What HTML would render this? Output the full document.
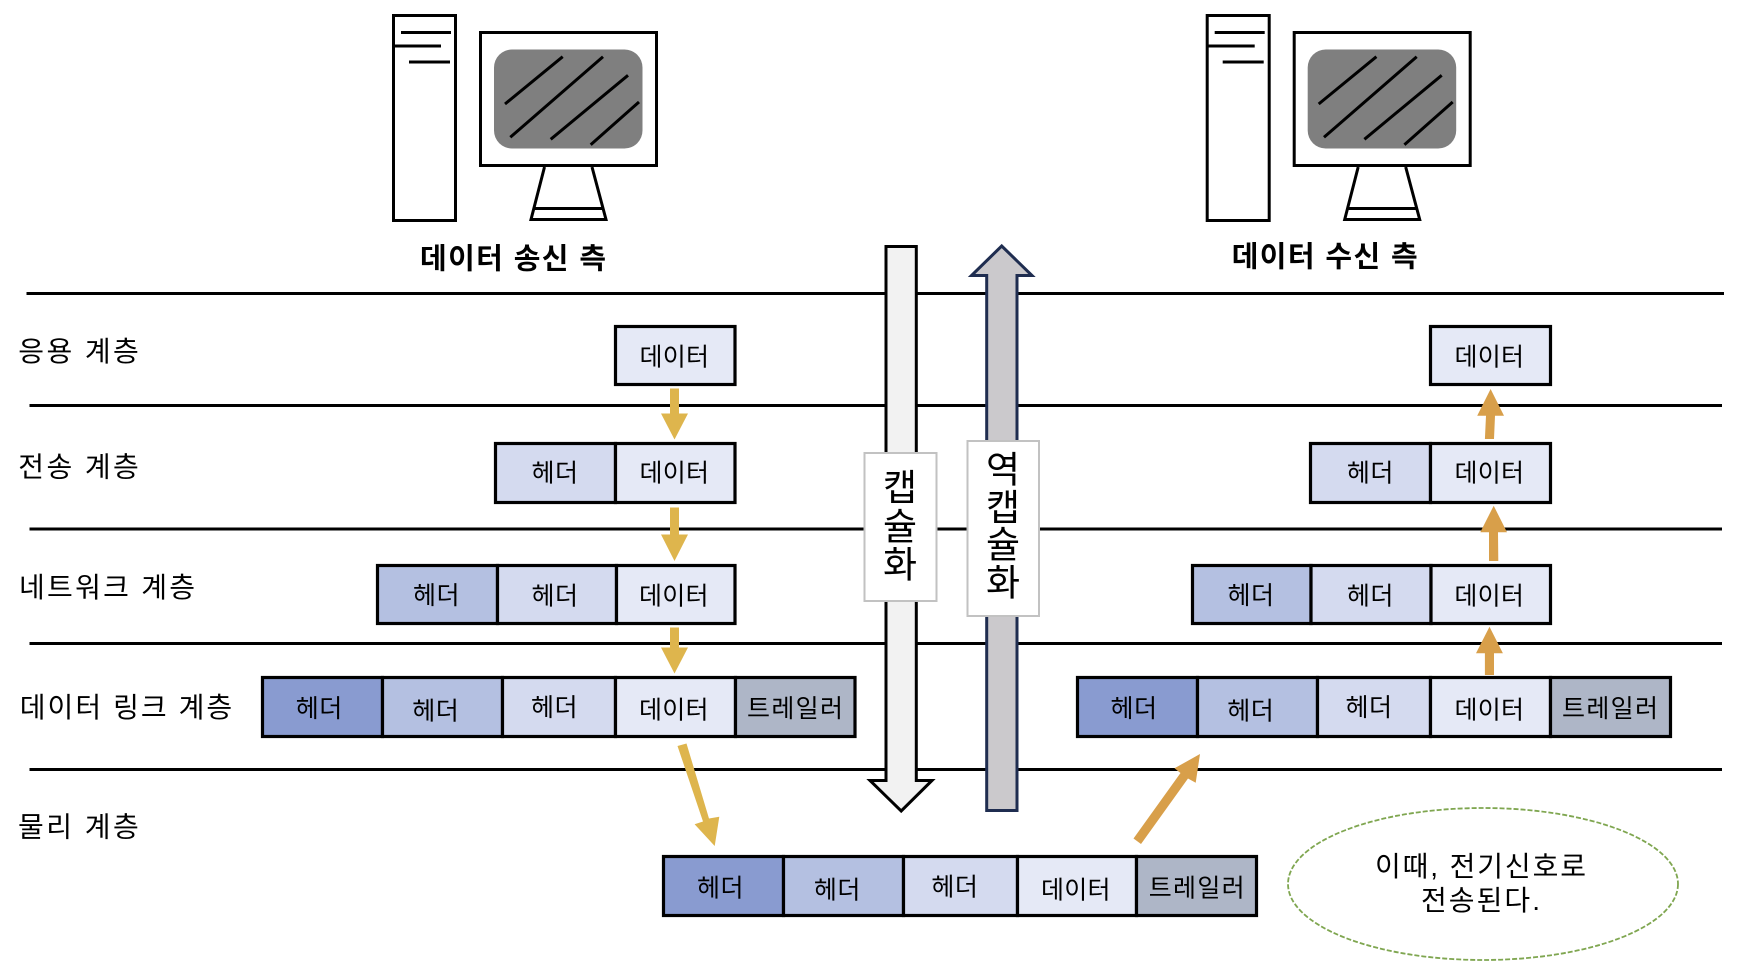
<!DOCTYPE html>
<html lang="ko">
<head>
<meta charset="utf-8">
<title>캡슐화와 역캡슐화</title>
<style>
html,body{margin:0;padding:0;background:#fff;width:1750px;height:974px;overflow:hidden}
svg{display:block}
text{font-family:"Liberation Sans","Noto Sans CJK KR",sans-serif;fill:#000;dominant-baseline:central}
.b{font-size:25px;transform:translate(-1px,2.300px)}
.l{font-size:28px;transform:translate(-1px,1.200px)}
.t{font-size:29px;font-weight:700;transform:translate(-1px,2.200px)}
.v{font-size:37px;text-anchor:middle}
.n{font-size:28px;transform:translate(-1px,1.500px)}
.box{stroke:#000;stroke-width:3.2}
.d{fill:#e5e9f6}.h1{fill:#d4daef}.h2{fill:#b4c0e1}.h3{fill:#899bd0}.tr{fill:#aeb6c7}
.ln{stroke:#000;stroke-width:3;fill:none}
</style>
</head>
<body>
<svg width="1750" height="974" viewBox="0 0 1750 974" xmlns="http://www.w3.org/2000/svg">
<rect width="1750" height="974" fill="#fff"/>

<defs>
<g id="pc">
  <rect x="393.500" y="15.500" width="62" height="205" fill="#fff" class="ln"/>
  <path d="M401 32.500H451M393 46H441M409 62H450" class="ln"/>
  <rect x="480.500" y="32.500" width="176" height="133" fill="#fff" class="ln"/>
  <rect x="494" y="49.500" width="148.500" height="99" rx="18" fill="#7f7f7f"/>
  <path d="M505 104L562.700 56.700M510.300 137.300L603 56.700M550.700 139.300L628 75.300M590.700 144.700L639 102" class="ln"/>
  <path d="M544.500 167L531 219.500H606L592 167" fill="#fff" class="ln"/>
  <path d="M534 208.500H603" class="ln"/>
</g>
</defs>

<use href="#pc"/>
<use href="#pc" x="813.700"/>
<text class="t" x="421" y="257.500" textLength="186">데이터 송신 측</text>
<text class="t" x="1232.700" y="255.500" textLength="186">데이터 수신 측</text>

<!-- layer lines -->
<g stroke="#000" stroke-width="3">
<line x1="26.500" y1="293.500" x2="1724" y2="293.500"/>
<line x1="29.500" y1="405.500" x2="1722" y2="405.500"/>
<line x1="29.500" y1="529" x2="1722" y2="529"/>
<line x1="29.500" y1="643.500" x2="1722" y2="643.500"/>
<line x1="29.500" y1="769.500" x2="1722" y2="769.500"/>
</g>

<!-- layer labels -->
<text class="l" x="19.300" y="350.500" textLength="120.500">응용 계층</text>
<text class="l" x="19.300" y="466" textLength="120.500">전송 계층</text>
<text class="l" x="20" y="586.500" textLength="176">네트워크 계층</text>
<text class="l" x="20.700" y="706.500" textLength="212.500">데이터 링크 계층</text>
<text class="l" x="19" y="826" textLength="120.800">물리 계층</text>

<!-- big arrows -->
<path d="M886 246.500H916.300V780.500H932L901.200 811L870 780.500H886Z" fill="#f2f2f2" stroke="#000" stroke-width="3"/>
<path d="M1001.700 246L1032 275.500H1017V810.500H986.700V275.500H971.500Z" fill="#cbc9cc" stroke="#1f2d50" stroke-width="3"/>
<rect x="864.500" y="453" width="72" height="148" fill="#fff" stroke="#c2c2c2" stroke-width="2"/>
<rect x="967.500" y="441" width="71.500" height="175" fill="#fff" stroke="#c2c2c2" stroke-width="2"/>
<text class="v" x="900" y="488">캡</text>
<text class="v" x="900" y="527">슐</text>
<text class="v" x="900" y="565">화</text>
<text class="v" x="1003" y="470">역</text>
<text class="v" x="1003" y="508">캡</text>
<text class="v" x="1003" y="545">슐</text>
<text class="v" x="1003" y="583">화</text>

<!-- left stack -->
<rect class="box d" x="615.500" y="326.500" width="119.500" height="58"/>
<text class="b" x="640.500" y="355" textLength="69.500">데이터</text>

<rect class="box h1" x="495.500" y="443.500" width="120" height="59"/>
<rect class="box d" x="615.500" y="443.500" width="119.500" height="59"/>
<text class="b" x="532.500" y="471" textLength="46.500">헤더</text>
<text class="b" x="640.500" y="471" textLength="69.500">데이터</text>

<rect class="box h2" x="377.500" y="565.500" width="120" height="58"/>
<rect class="box h1" x="497.500" y="565.500" width="119" height="58"/>
<rect class="box d" x="616.500" y="565.500" width="118.500" height="58"/>
<text class="b" x="414" y="593.500" textLength="46.500">헤더</text>
<text class="b" x="532.500" y="594" textLength="46.500">헤더</text>
<text class="b" x="640" y="594" textLength="69.500">데이터</text>

<rect class="box h3" x="262.500" y="677.500" width="120" height="59"/>
<rect class="box h2" x="382.500" y="677.500" width="120" height="59"/>
<rect class="box h1" x="502.500" y="677.500" width="113" height="59"/>
<rect class="box d" x="615.500" y="677.500" width="120" height="59"/>
<rect class="box tr" x="735.500" y="677.500" width="119.500" height="59"/>
<text class="b" x="296.800" y="706.500" textLength="46.500">헤더</text>
<text class="b" x="413.300" y="709" textLength="46.500">헤더</text>
<text class="b" x="532" y="705.500" textLength="46.500">헤더</text>
<text class="b" x="640" y="708" textLength="69.500">데이터</text>
<text class="b" x="748" y="706.500" textLength="96">트레일러</text>

<!-- right stack -->
<rect class="box d" x="1430.500" y="326.500" width="120" height="58"/>
<text class="b" x="1455.500" y="355" textLength="69.500">데이터</text>

<rect class="box h1" x="1310.500" y="443.500" width="120" height="59"/>
<rect class="box d" x="1430.500" y="443.500" width="120" height="59"/>
<text class="b" x="1347.900" y="471" textLength="46.500">헤더</text>
<text class="b" x="1455.500" y="471" textLength="69.500">데이터</text>

<rect class="box h2" x="1192.500" y="565.500" width="118.500" height="58"/>
<rect class="box h1" x="1311" y="565.500" width="120" height="58"/>
<rect class="box d" x="1431" y="565.500" width="119.500" height="58"/>
<text class="b" x="1228.500" y="593.500" textLength="46.500">헤더</text>
<text class="b" x="1347.900" y="594" textLength="46.500">헤더</text>
<text class="b" x="1455.400" y="594" textLength="69.500">데이터</text>

<rect class="box h3" x="1077.500" y="677.500" width="120" height="59"/>
<rect class="box h2" x="1197.500" y="677.500" width="120" height="59"/>
<rect class="box h1" x="1317.500" y="677.500" width="113" height="59"/>
<rect class="box d" x="1430.500" y="677.500" width="120" height="59"/>
<rect class="box tr" x="1550.500" y="677.500" width="120" height="59"/>
<text class="b" x="1111.500" y="706.500" textLength="46.500">헤더</text>
<text class="b" x="1228.300" y="709" textLength="46.500">헤더</text>
<text class="b" x="1346.500" y="705.500" textLength="46.500">헤더</text>
<text class="b" x="1455.500" y="708" textLength="69.500">데이터</text>
<text class="b" x="1563" y="706.500" textLength="96">트레일러</text>

<!-- physical stack -->
<rect class="box h3" x="663.500" y="856.500" width="120" height="59"/>
<rect class="box h2" x="783.500" y="856.500" width="120" height="59"/>
<rect class="box h1" x="903.500" y="856.500" width="114" height="59"/>
<rect class="box d" x="1017.500" y="856.500" width="119" height="59"/>
<rect class="box tr" x="1136.500" y="856.500" width="120" height="59"/>
<text class="b" x="698" y="886" textLength="46.500">헤더</text>
<text class="b" x="814.900" y="888" textLength="46.500">헤더</text>
<text class="b" x="932.400" y="885" textLength="46.500">헤더</text>
<text class="b" x="1042" y="888" textLength="69.500">데이터</text>
<text class="b" x="1149.700" y="886" textLength="96">트레일러</text>

<!-- yellow arrows -->
<g fill="#deb54d">
<path d="M670 388.500H679V413.500H688L674.500 439.500L661 413.500H670Z"/>
<path d="M670 507.500H679V534.500H688L674.500 561L661 534.500H670Z"/>
<path d="M670 627.500H679V647.500H688L674.500 673.500L661 647.500H670Z"/>
<path d="M677.500 746L686.500 743.500L709 818.500L719.300 816.700L714.700 846L694.600 824.300L703 821.500Z"/>
</g>

<!-- orange arrows -->
<g fill="#d89f4a">
<path d="M1490.600 389L1504 415.700H1495L1494 439H1484.900L1486 415.700H1477.200Z"/>
<path d="M1493.700 505.700L1507 532.300H1498L1498.300 561H1489L1489 532.300H1480.300Z"/>
<path d="M1489.500 626.700L1502.900 653.300H1494V675H1484.900V653.300H1476Z"/>
<path d="M1133.500 838.500L1180.500 773L1174.500 768.300L1200 754L1195.700 782.700L1188 778.500L1141 844Z"/>
</g>

<!-- note -->
<ellipse cx="1483" cy="884" rx="195" ry="76" fill="#fff" stroke="#7fa650" stroke-width="1.800" stroke-dasharray="5 2"/>
<text class="n" x="1376" y="865" textLength="211">이때, 전기신호로</text>
<text class="n" x="1422" y="899" textLength="119">전송된다.</text>
</svg>
</body>
</html>
